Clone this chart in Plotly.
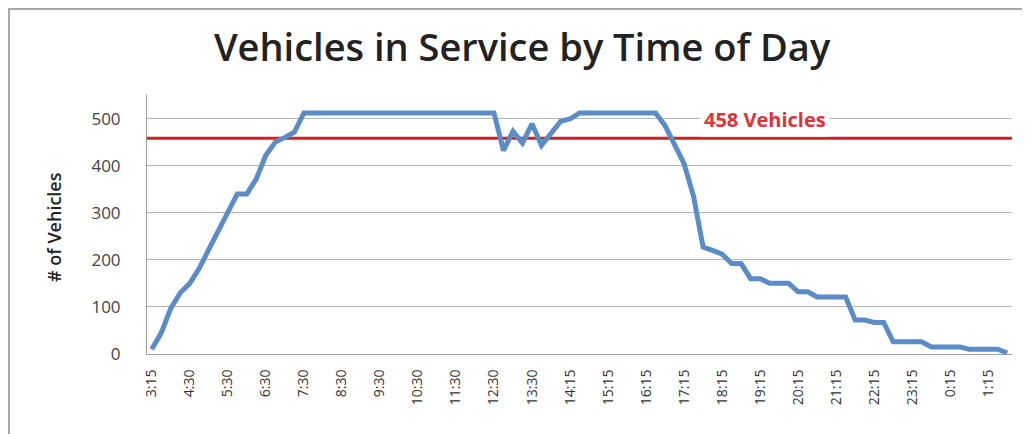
import plotly.graph_objects as go

# ---- data ----
times = [
    "3:15", "3:45", "4:00", "4:15", "4:30", "4:45", "5:00", "5:15", "5:30", "5:45",
    "6:00", "6:15", "6:30", "6:45", "7:00", "7:15", "7:30", "7:45", "8:00", "8:15",
    "8:30", "8:45", "9:00", "9:15", "9:30", "9:45", "10:00", "10:15", "10:30", "10:45",
    "11:00", "11:15", "11:30", "11:45", "12:00", "12:15", "12:30", "12:45", "13:00", "13:15",
    "13:30", "13:40", "13:50", "14:00", "14:15", "14:30", "14:45", "15:00", "15:15", "15:30",
    "15:45", "16:00", "16:15", "16:30", "16:45", "17:00", "17:15", "17:30", "17:45", "18:00",
    "18:15", "18:30", "18:45", "19:00", "19:15", "19:30", "19:45", "20:00", "20:15", "20:30",
    "20:45", "21:00", "21:15", "21:30", "21:45", "22:00", "22:15", "22:30", "22:45", "23:00",
    "23:15", "23:30", "23:45", "0:00", "0:15", "0:30", "0:45", "1:00", "1:15", "1:30",
    "1:45",
]
vehicles = [
    10, 45, 97, 130, 150, 182, 222, 261, 300, 340,
    340, 372, 422, 450, 460, 471, 512, 512, 512, 512,
    512, 512, 512, 512, 512, 512, 512, 512, 512, 512,
    512, 512, 512, 512, 512, 512, 512, 432, 473, 448,
    489, 443, 468, 494, 499, 512, 512, 512, 512, 512,
    512, 512, 512, 512, 485, 445, 404, 335, 227, 220,
    212, 192, 192, 160, 160, 150, 150, 150, 132, 132,
    121, 121, 121, 121, 72, 72, 67, 67, 26, 26,
    26, 26, 15, 15, 15, 15, 10, 10, 10, 10,
    2,
]
tick_labels = ["3:15", "4:30", "5:30", "6:30", "7:30", "8:30", "9:30", "10:30",
               "11:30", "12:30", "13:30", "14:15", "15:15", "16:15", "17:15",
               "18:15", "19:15", "20:15", "21:15", "22:15", "23:15", "0:15", "1:15"]
threshold = 458
threshold_label = "458 Vehicles"
y_ticks = [0, 100, 200, 300, 400, 500]

fig = go.Figure()
fig.add_trace(go.Scatter(
    x=times, y=vehicles, mode="lines",
    line=dict(color="#5B8CC8", width=5, shape="linear"),
    hoverinfo="skip", showlegend=False,
))

fig.add_shape(type="line", xref="paper", yref="y", x0=0, x1=1,
              y0=threshold, y1=threshold,
              line=dict(color="#CC2229", width=3), layer="between")

fig.add_annotation(text="<b>" + threshold_label + "</b>", xref="paper", yref="y",
                   x=0.7145, y=497, xanchor="center", yanchor="middle",
                   showarrow=False,
                   font=dict(family="Open Sans", size=20, color="#E0323A"),
                   bgcolor="white", borderpad=3)

# screenshot frame
fig.add_shape(type="rect", xref="paper", yref="paper",
              x0=-0.1595, x1=1.2, y0=1.332, y1=-0.5,
              line=dict(color="#A6A6A6", width=2), layer="below")

fig.add_annotation(text="# of Vehicles", xref="paper", yref="paper",
                   x=-0.1075, y=0.49, textangle=-90, showarrow=False,
                   xanchor="center", yanchor="middle",
                   font=dict(family="Open Sans", size=18, color="#222222",
                             weight=600))

fig.update_layout(
    width=1022, height=426,
    margin=dict(l=139, r=18, t=87, b=80),
    paper_bgcolor="white", plot_bgcolor="white",
    title=dict(text="Vehicles in Service by Time of Day",
               x=0.503, xanchor="center", y=0.906, yanchor="middle",
               yref="container",
               font=dict(family="Open Sans", size=38, color="#222222",
                         weight=600)),
    xaxis=dict(type="category", categoryorder="array", categoryarray=times,
               range=[-0.5, len(times) - 0.5],
               tickmode="array", tickvals=tick_labels, ticktext=tick_labels,
               tickangle=-90, showgrid=False,
               showline=True, linecolor="#A0A0A0", linewidth=1,
               ticks="", ticklabelstandoff=9,
               tickfont=dict(family="Open Sans", size=14, color="#333333")),
    yaxis=dict(range=[0, 550], tickmode="array", tickvals=y_ticks,
               showgrid=True, gridcolor="#B4B4B4", gridwidth=1,
               zeroline=False, showline=True, linecolor="#A0A0A0", linewidth=1,
               ticks="", ticklabelstandoff=22,
               tickfont=dict(family="Open Sans", size=17, color="#444444")),
)

fig.write_html("out.html")
